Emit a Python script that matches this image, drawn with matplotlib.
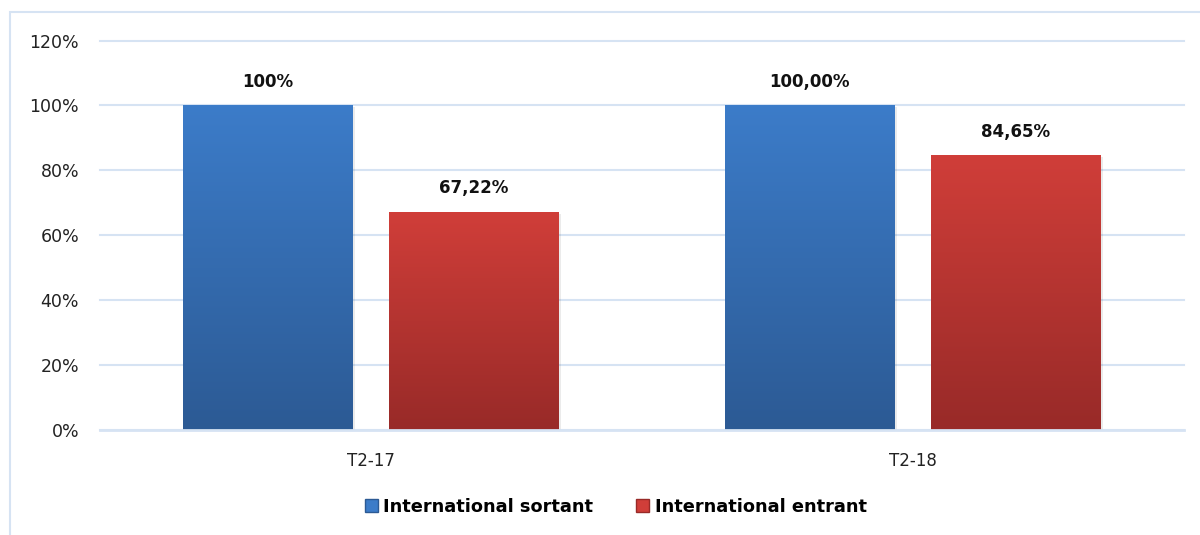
import numpy as np
import matplotlib
matplotlib.use('Agg')
import matplotlib.pyplot as plt
from matplotlib.colors import LinearSegmentedColormap
from matplotlib.patches import Rectangle

categories = ['T2-17', 'T2-18']
sortant = [100.0, 100.0]
entrant = [67.22, 84.65]
sortant_labels = ['100%', '100,00%']
entrant_labels = ['67,22%', '84,65%']
series_names = ['International sortant', 'International entrant']
yticks = [0, 20, 40, 60, 80, 100, 120]

plt.rcParams['font.family'] = ['DejaVu Sans']

blue_top, blue_bot = '#3c7cc9', '#2c5a94'
red_top, red_bot = '#d03e39', '#982a28'
grid_col = '#d6e3f3'

fig = plt.figure(figsize=(12, 5.35), dpi=100)
ax = fig.add_axes([0.0833, 0.197, 0.903, 0.727])

# figure border
fig.patches.append(Rectangle((10 / 1200, -0.01), 1.2, 1 - 12 / 535 + 0.01,
                             transform=fig.transFigure, fill=False,
                             edgecolor=grid_col, linewidth=1.5))

x = np.arange(len(categories))
w = 0.313
off = 0.19

b1 = ax.bar(x - off, sortant, w, color=blue_top, label=series_names[0], zorder=2)
b2 = ax.bar(x + off, entrant, w, color=red_top, label=series_names[1], zorder=2)

# vertical gradients over each bar
grad = np.linspace(0, 1, 256).reshape(-1, 1)
for bars, top, bot in [(b1, blue_top, blue_bot), (b2, red_top, red_bot)]:
    cmap = LinearSegmentedColormap.from_list('g', [bot, top])
    for p in bars:
        x0, y0 = p.get_x(), p.get_y()
        ww, hh = p.get_width(), p.get_height()
        # soft shadow
        ax.add_patch(Rectangle((x0 + 0.004, y0 - 0.6), ww, hh, color='#000000',
                               alpha=0.08, zorder=1.5, linewidth=0))
        ax.imshow(grad, extent=(x0, x0 + ww, y0, y0 + hh), origin='lower',
                  cmap=cmap, aspect='auto', zorder=2.5)

for p, lab in zip(b1, sortant_labels):
    ax.text(p.get_x() + p.get_width() / 2, p.get_height() + 4.5, lab,
            ha='center', va='bottom', fontsize=12, fontweight='bold', color='#111111')
for p, lab in zip(b2, entrant_labels):
    ax.text(p.get_x() + p.get_width() / 2, p.get_height() + 4.5, lab,
            ha='center', va='bottom', fontsize=12, fontweight='bold', color='#111111')

ax.set_xlim(-0.5, 1.5)
ax.set_ylim(0, 120)
ax.set_yticks(yticks)
ax.set_yticklabels([f'{v}%' for v in yticks], fontsize=12.5, color='#222222')
ax.set_xticks(x)
ax.set_xticklabels(categories, fontsize=12, color='#222222')
ax.tick_params(axis='both', length=0)
ax.tick_params(axis='y', pad=15)
ax.tick_params(axis='x', pad=16)

ax.grid(axis='y', color=grid_col, linewidth=1.5, zorder=0)
for gl in ax.get_ygridlines():
    gl.set_clip_on(False)
ax.set_axisbelow(True)
for s in ['top', 'right', 'left']:
    ax.spines[s].set_visible(False)
ax.spines['bottom'].set_color(grid_col)
ax.spines['bottom'].set_linewidth(2)

leg = fig.legend(handles=[b1, b2], loc='center', bbox_to_anchor=(0.513, 0.052), ncol=2,
                 frameon=False, handlelength=0.75, handleheight=0.75,
                 handletextpad=0.3, columnspacing=2.4,
                 prop={'weight': 'bold', 'size': 12.8})
for h, top, bot in zip(leg.legend_handles, [blue_top, red_top], [blue_bot, red_bot]):
    h.set_facecolor(top)
    h.set_edgecolor(bot)

fig.savefig('out.png', dpi=100)
